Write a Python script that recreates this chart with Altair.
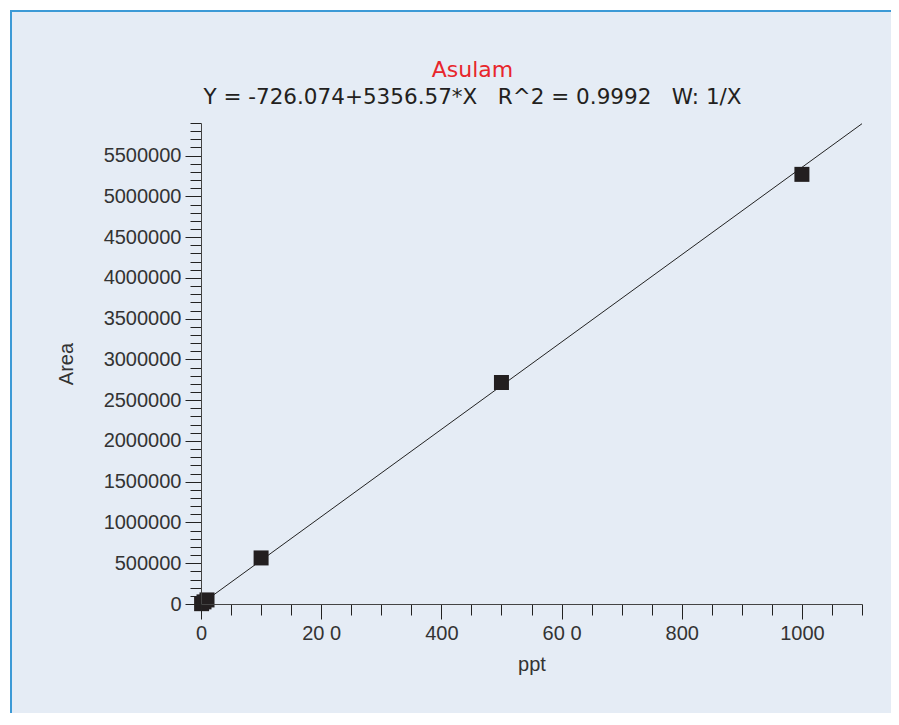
import altair as alt
import pandas as pd

# ---- data ----
ppt = [1, 5, 10, 100, 500, 1000]
area = [4000, 26000, 50000, 565000, 2717000, 5270000]

fit_x = [0, 1100]
fit_y = [-726, 5891501]

x_ticks = list(range(0, 1101, 50))
y_ticks = list(range(0, 5900001, 100000))

title_text = "Asulam"
subtitle_text = "Y = -726.074+5356.57*X\u00a0\u00a0\u00a0R^2 = 0.9992\u00a0\u00a0\u00a0W: 1/X"

pts = pd.DataFrame({"ppt": ppt, "area": area})
fit = pd.DataFrame({"ppt": fit_x, "area": fit_y})
one = pd.DataFrame({"k": [0]})

FONT = "Liberation Sans"
TFONT = "DejaVu Sans"
W, H = 661, 481
PAD = {"left": 193, "top": 115, "right": 29, "bottom": 109}

xscale = alt.Scale(domain=[0, 1100], nice=False, zero=False)
yscale = alt.Scale(domain=[0, 5900000], nice=False, zero=False)

x_axis = alt.Axis(
    title="ppt", values=x_ticks, grid=False, zindex=1, format="d", labelFlush=False,
    labelExpr="datum.value == 200 ? '20 0' : datum.value == 600 ? '60 0' : (datum.value % 200 == 0 ? datum.label : '')",
    tickSize={"condition": {"test": "datum.value % 200 === 0", "value": 15}, "value": 11},
    tickColor="#222", domainColor="#444", labelOverlap=False,
    labelFont=FONT, labelFontSize=20, labelColor="#333", labelPadding=4,
    titleFont=FONT, titleFontSize=20, titleColor="#333", titleFontWeight="normal", titlePadding=11,
)
y_axis = alt.Axis(
    title="Area", values=y_ticks, grid=False, format="d", zindex=1, labelFlush=False,
    labelExpr="datum.value % 500000 == 0 ? datum.label : ''",
    tickSize={"condition": {"test": "datum.value % 500000 === 0", "value": 16}, "value": 11},
    tickColor="#222", domainColor="#444", labelOverlap=False,
    labelFont=FONT, labelFontSize=20, labelColor="#333", labelPadding=4,
    titleFont=FONT, titleFontSize=20, titleColor="#333", titleFontWeight="normal", titlePadding=27,
)

bg = alt.Chart(one).mark_rect(color="#e5ecf5").encode(
    x=alt.value(-191), x2=alt.value(W + PAD["right"]),
    y=alt.value(-113), y2=alt.value(H + PAD["bottom"]),
)
left_border = alt.Chart(one).mark_rule(color="#3c9ad6", strokeWidth=2).encode(
    x=alt.value(-190), y=alt.value(-113), y2=alt.value(H + PAD["bottom"]),
)
top_border = alt.Chart(one).mark_rule(color="#3c9ad6", strokeWidth=2).encode(
    y=alt.value(-112), x=alt.value(-191), x2=alt.value(W + PAD["right"]),
)

line = alt.Chart(fit).mark_line(color="#222", strokeWidth=1).encode(
    x=alt.X("ppt:Q", scale=xscale, axis=x_axis),
    y=alt.Y("area:Q", scale=yscale, axis=y_axis),
)
points = alt.Chart(pts).mark_point(shape="square", filled=True, size=225, color="#231f20", opacity=1).encode(
    x=alt.X("ppt:Q", scale=xscale, axis=x_axis),
    y=alt.Y("area:Q", scale=yscale, axis=y_axis),
)

chart = alt.layer(bg, left_border, top_border, line, points).properties(
    width=W, height=H,
    padding=PAD,
    autosize=alt.AutoSizeParams(type="none"),
    background="#ffffff",
    title=alt.TitleParams(
        text=title_text, subtitle=subtitle_text,
        font=TFONT, fontSize=22, color="#e8262c", fontWeight="normal",
        subtitleFont=TFONT, subtitleFontSize=21.5, subtitleColor="#231f20",
        subtitlePadding=5, anchor="middle", dx=-59, offset=-100,
    ),
).configure_view(stroke=None)

chart.save("out.html", embed_options={"renderer": "svg", "actions": False})
